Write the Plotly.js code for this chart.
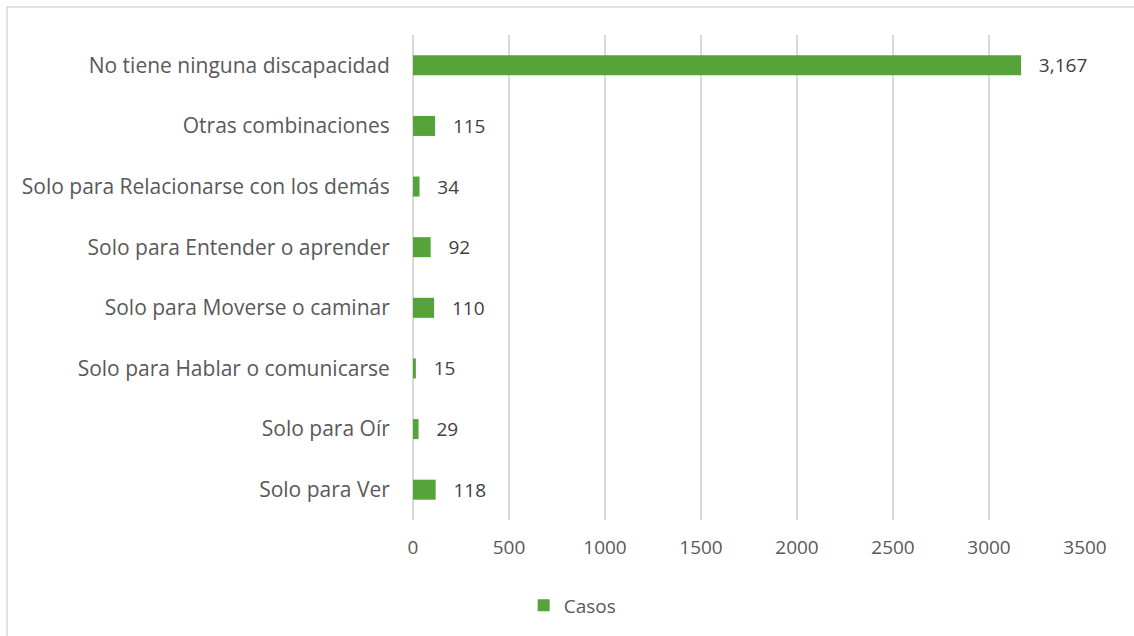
<!DOCTYPE html>
<html>
<head>
<meta charset="utf-8">
<script src="https://cdn.plot.ly/plotly-3.0.1.min.js"></script>
<style>html,body{margin:0;padding:0;background:#fff;}#chart{width:1134px;height:636px;}</style>
</head>
<body>
<div id="chart"></div>
<script>
const categories = [
  "Solo para Ver",
  "Solo para Oír",
  "Solo para Hablar o comunicarse",
  "Solo para Moverse o caminar",
  "Solo para Entender o aprender",
  "Solo para Relacionarse con los demás",
  "Otras combinaciones",
  "No tiene ninguna discapacidad"
];
const casos = [118, 29, 15, 110, 92, 34, 115, 3167];
const xTicks = [0, 500, 1000, 1500, 2000, 2500, 3000, 3500];
const seriesName = "Casos";

const W = 1134, H = 636;
const L = 413, R = 49, T = 35, B = 116;
const pw = W - L - R, ph = H - T - B;
const FONT = 'Open Sans, sans-serif';

const trace = {
  type: 'bar',
  orientation: 'h',
  y: categories,
  x: casos,
  name: seriesName,
  marker: {color: '#56a33a'},
  width: 0.33,
  text: casos.map(v => '   ' + v.toLocaleString('en-US')),
  textposition: 'outside',
  constraintext: 'none',
  cliponaxis: false,
  textfont: {family: FONT, size: 19, color: '#404040'},
  hoverinfo: 'x+y'
};

const layout = {
  width: W, height: H,
  margin: {l: L, r: R, t: T, b: B, pad: 0},
  paper_bgcolor: '#fff',
  plot_bgcolor: '#fff',
  font: {family: FONT, size: 19, color: '#595959'},
  showlegend: true,
  legend: {
    orientation: 'h',
    xref: 'container', yref: 'container',
    x: 0.505, xanchor: 'center',
    y: 0.048, yanchor: 'middle',
    font: {size: 19, color: '#595959'},
    itemwidth: 30
  },
  xaxis: {
    range: [0, 3500],
    tickvals: xTicks,
    ticktext: xTicks.map(String),
    showgrid: true,
    gridcolor: '#d9d9d9',
    gridwidth: 1.5,
    zeroline: true,
    zerolinecolor: '#d9d9d9',
    zerolinewidth: 1.5,
    showline: false,
    ticks: 'outside',
    ticklen: 10,
    tickcolor: 'rgba(0,0,0,0)',
    tickfont: {size: 19, color: '#595959'},
    fixedrange: true
  },
  yaxis: {
    type: 'category',
    categoryorder: 'array',
    categoryarray: categories,
    showgrid: false,
    zeroline: false,
    showline: false,
    ticks: 'outside',
    ticklen: 18,
    tickcolor: 'rgba(0,0,0,0)',
    tickfont: {size: 21, color: '#595959'},
    fixedrange: true
  },
  shapes: [{
    type: 'rect', xref: 'paper', yref: 'paper',
    x0: (7 - L) / pw, x1: (W + 20 - L) / pw,
    y0: -(B + 20) / ph, y1: 1 + (T - 7) / ph,
    line: {color: '#d9d9d9', width: 1.5},
    fillcolor: 'rgba(0,0,0,0)',
    layer: 'below'
  }]
};

Plotly.newPlot('chart', [trace], layout, {displayModeBar: false, staticPlot: true});
</script>
</body>
</html>
